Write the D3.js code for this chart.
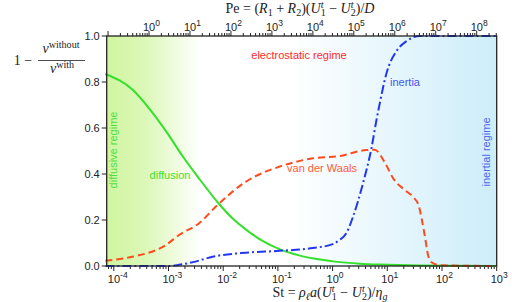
<!DOCTYPE html>
<html>
<head>
<meta charset="utf-8">
<script src="https://cdn.jsdelivr.net/npm/d3@7"></script>
<style>
  body { margin: 0; background: #fff; }
</style>
</head>
<body>
<div id="chart"></div>
<script>
// Stokes number samples (bottom axis) and the three curves
const diffSt = [7.0e-5, 2.24e-4, 4.59e-4, 9.38e-4, 1.84e-3, 3.77e-3, 8.04e-3, 1.51e-2, 2.72e-2, 5.34e-2, 0.109, 0.253, 0.589, 1.11, 3.17, 7.36, 39.6, 1000];
const diffVal = [0.835, 0.765, 0.68, 0.58, 0.475, 0.375, 0.275, 0.205, 0.155, 0.108, 0.072, 0.045, 0.028, 0.019, 0.01, 0.006, 0.002, 0.0];

const vdwSt = [7.0e-5, 2.17e-4, 8.9e-4, 1.56e-3, 3.63e-3, 7.85e-3, 2.61e-2, 0.107, 0.436, 1.34, 4.15, 5.89, 9.0, 12.8, 20.9, 29.7, 37.8, 42.9, 48.8, 55.3, 65.6, 91.8, 1000];
const vdwVal = [0.023, 0.04, 0.091, 0.135, 0.186, 0.265, 0.367, 0.432, 0.468, 0.478, 0.504, 0.505, 0.45, 0.381, 0.33, 0.30, 0.26, 0.20, 0.127, 0.05, 0.015, 0.003, 0.0];

const inerSt = [7.0e-5, 1.02e-3, 1.56e-3, 2.95e-3, 6.37e-3, 2.61e-2, 0.107, 0.436, 1.0, 1.34, 1.78, 2.36, 3.6, 5.13, 6.34, 7.28, 9.66, 14.8, 22.5, 39.4, 1000];
const inerVal = [0.0, 0.0, 0.005, 0.018, 0.04, 0.058, 0.066, 0.078, 0.095, 0.113, 0.142, 0.214, 0.36, 0.512, 0.635, 0.707, 0.838, 0.935, 0.978, 1.0, 1.0];

const yTicks = [0, 0.2, 0.4, 0.6, 0.8, 1.0];
const stDecades = [-4, -3, -2, -1, 0, 1, 2, 3];
const peDecades = [0, 1, 2, 3, 4, 5, 6, 7, 8];

const W = 512, H = 302;
const L = 106.7, R = 496.7, T = 36, B = 266;
const sans = "'Liberation Sans', Arial, sans-serif";
const serif = "'Liberation Serif', 'DejaVu Serif', serif";

const svg = d3.select("#chart").append("svg")
  .attr("width", W).attr("height", H)
  .style("font-family", sans);

const x = d3.scaleLog().domain([Math.pow(10, -4.13), 1000]).range([L, R]);
const xTop = d3.scaleLog().domain([Math.pow(10, -1.033), Math.pow(10, 8.488)]).range([L, R]);
const y = d3.scaleLinear().domain([0, 1]).range([B, T]);

// background shading: diffusive (green) to inertial (blue)
const grad = svg.append("defs").append("linearGradient")
  .attr("id", "bg").attr("x1", "0%").attr("x2", "100%").attr("y1", "0%").attr("y2", "0%");
[[0, "#d0f5a0"], [0.1, "#dcf8b9"], [0.24, "#ffffff"], [0.47, "#ffffff"], [1, "#cdedfa"]]
  .forEach(s => grad.append("stop").attr("offset", s[0]).attr("stop-color", s[1]));

svg.append("rect").attr("x", L).attr("y", T).attr("width", R - L).attr("height", B - T)
  .attr("fill", "url(#bg)");

// log ticks: major at decades, minor at 2..9
function logTicks(scale) {
  const d = scale.domain();
  const out = [];
  for (let e = Math.floor(Math.log10(d[0])); e <= Math.ceil(Math.log10(d[1])); e++) {
    for (let m = 1; m < 10; m++) {
      const v = m * Math.pow(10, e);
      if (v >= d[0] * 0.999 && v <= d[1] * 1.001) out.push({ v: v, major: m === 1 });
    }
  }
  return out;
}

const axisCol = "#222";

// bottom ticks
svg.append("g").selectAll("line").data(logTicks(x)).join("line")
  .attr("x1", d => x(d.v)).attr("x2", d => x(d.v))
  .attr("y1", B).attr("y2", d => B + (d.major ? 5 : 3))
  .attr("stroke", axisCol).attr("stroke-width", 1);

// top ticks
svg.append("g").selectAll("line").data(logTicks(xTop)).join("line")
  .attr("x1", d => xTop(d.v)).attr("x2", d => xTop(d.v))
  .attr("y1", T).attr("y2", d => T - (d.major ? 5 : 3))
  .attr("stroke", axisCol).attr("stroke-width", 1);

// y ticks
svg.append("g").selectAll("line").data(yTicks).join("line")
  .attr("x1", L).attr("x2", L - 5)
  .attr("y1", d => y(d)).attr("y2", d => y(d))
  .attr("stroke", axisCol).attr("stroke-width", 1);

svg.append("g").selectAll("text").data(yTicks).join("text")
  .attr("x", L - 7).attr("y", d => y(d) + 4)
  .attr("text-anchor", "end").attr("font-size", 11).attr("fill", axisCol)
  .text(d => d.toFixed(1));

// decade labels 10^n
function powLabel(g, px, py, e) {
  const t = g.append("text").attr("x", px - 6).attr("y", py)
    .attr("font-size", 11).attr("fill", axisCol);
  t.append("tspan").text("10");
  t.append("tspan").attr("dy", -5).attr("font-size", 8.5).text(e < 0 ? "-" + (-e) : e);
}
const gb = svg.append("g");
stDecades.forEach(e => powLabel(gb, x(Math.pow(10, e)), 283, e));
const gt = svg.append("g");
peDecades.forEach(e => powLabel(gt, xTop(Math.pow(10, e)), 31, e));

// curves
const line = (xs, vs) => d3.line().curve(d3.curveMonotoneX)
  .x((d, i) => x(xs[i])).y(d => y(d))(vs);

const plot = svg.append("g");
plot.append("path").attr("d", line(diffSt, diffVal))
  .attr("fill", "none").attr("stroke", "#33e02a").attr("stroke-width", 2);
plot.append("path").attr("d", line(vdwSt, vdwVal))
  .attr("fill", "none").attr("stroke", "#ff4a1c").attr("stroke-width", 2)
  .attr("stroke-dasharray", "7,4");
plot.append("path").attr("d", line(inerSt, inerVal))
  .attr("fill", "none").attr("stroke", "#2236f0").attr("stroke-width", 2)
  .attr("stroke-dasharray", "9,3,2,3");

// frame
svg.append("rect").attr("x", L).attr("y", T).attr("width", R - L).attr("height", B - T)
  .attr("fill", "none").attr("stroke", axisCol).attr("stroke-width", 1.3);

// annotations
svg.append("text").attr("x", 299).attr("y", 59).attr("text-anchor", "middle")
  .attr("font-size", 11).attr("fill", "#ff2a2a").text("electrostatic regime");
svg.append("text").attr("x", 322).attr("y", 172).attr("text-anchor", "middle")
  .attr("font-size", 11).attr("fill", "#ff5a35").text("van der Waals");
svg.append("text").attr("x", 170).attr("y", 179).attr("text-anchor", "middle")
  .attr("font-size", 11).attr("fill", "#3ee02c").text("diffusion");
svg.append("text").attr("x", 405).attr("y", 86).attr("text-anchor", "middle")
  .attr("font-size", 11).attr("fill", "#4455ee").text("inertia");
svg.append("text").attr("transform", "translate(117,150) rotate(-90)")
  .attr("text-anchor", "middle").attr("font-size", 11).attr("fill", "#4ee03a")
  .text("diffusive regime");
svg.append("text").attr("transform", "translate(490,152) rotate(-90)")
  .attr("text-anchor", "middle").attr("font-size", 11).attr("fill", "#4f66ee")
  .text("inertial regime");

// math labels, serif; kinds: n roman, i italic, sub/sup italic small,
// nsub roman small, supr roman small, ssub roman small stacked under the previous sup
function mathText(px, py, parts, size, anchor) {
  const t = svg.append("text").attr("x", px).attr("y", py)
    .attr("text-anchor", anchor || "middle")
    .style("font-family", serif).attr("font-size", size).attr("fill", "#222");
  let shift = 0;
  parts.forEach(p => {
    const [txt, kind] = p;
    const s = t.append("tspan").text(txt);
    let target = 0;
    if (kind === "sub" || kind === "nsub" || kind === "ssub") target = 2.5;
    if (kind === "sup" || kind === "supr") target = -5;
    if (target !== 0) s.attr("font-size", size * 0.72);
    if (kind === "i" || kind === "sub" || kind === "sup") s.style("font-style", "italic");
    if (kind === "ssub") s.attr("dx", -size * 0.2);
    if (target - shift !== 0) s.attr("dy", target - shift);
    shift = target;
  });
  return t;
}

// Pe = (R1 + R2)(U1^t - U2^t)/D
mathText(300, 13, [["Pe = (", "n"], ["R", "i"], ["1", "nsub"], [" + ", "n"], ["R", "i"], ["2", "nsub"],
  [")(", "n"], ["U", "i"], ["t", "sup"], ["1", "ssub"], [" − ", "n"], ["U", "i"], ["t", "sup"], ["2", "ssub"],
  [")/", "n"], ["D", "i"]], 14);

// St = rho_l a (U1^t - U2^t)/eta_g
mathText(330, 297, [["St = ", "n"], ["ρ", "i"], ["ℓ", "sub"], ["a", "i"], ["(", "n"], ["U", "i"], ["t", "sup"], ["1", "ssub"],
  [" − ", "n"], ["U", "i"], ["t", "sup"], ["2", "ssub"], [")/", "n"], ["η", "i"], ["g", "sub"]], 14);

// y label: 1 - nu^without / nu^with
mathText(23, 65, [["1 −", "n"]], 14);
mathText(61, 53, [["ν", "i"], ["without", "supr"]], 14);
svg.append("line").attr("x1", 38).attr("x2", 85).attr("y1", 60.5).attr("y2", 60.5)
  .attr("stroke", "#222").attr("stroke-width", 0.8);
mathText(62, 73, [["ν", "i"], ["with", "supr"]], 14);
</script>
</body>
</html>
